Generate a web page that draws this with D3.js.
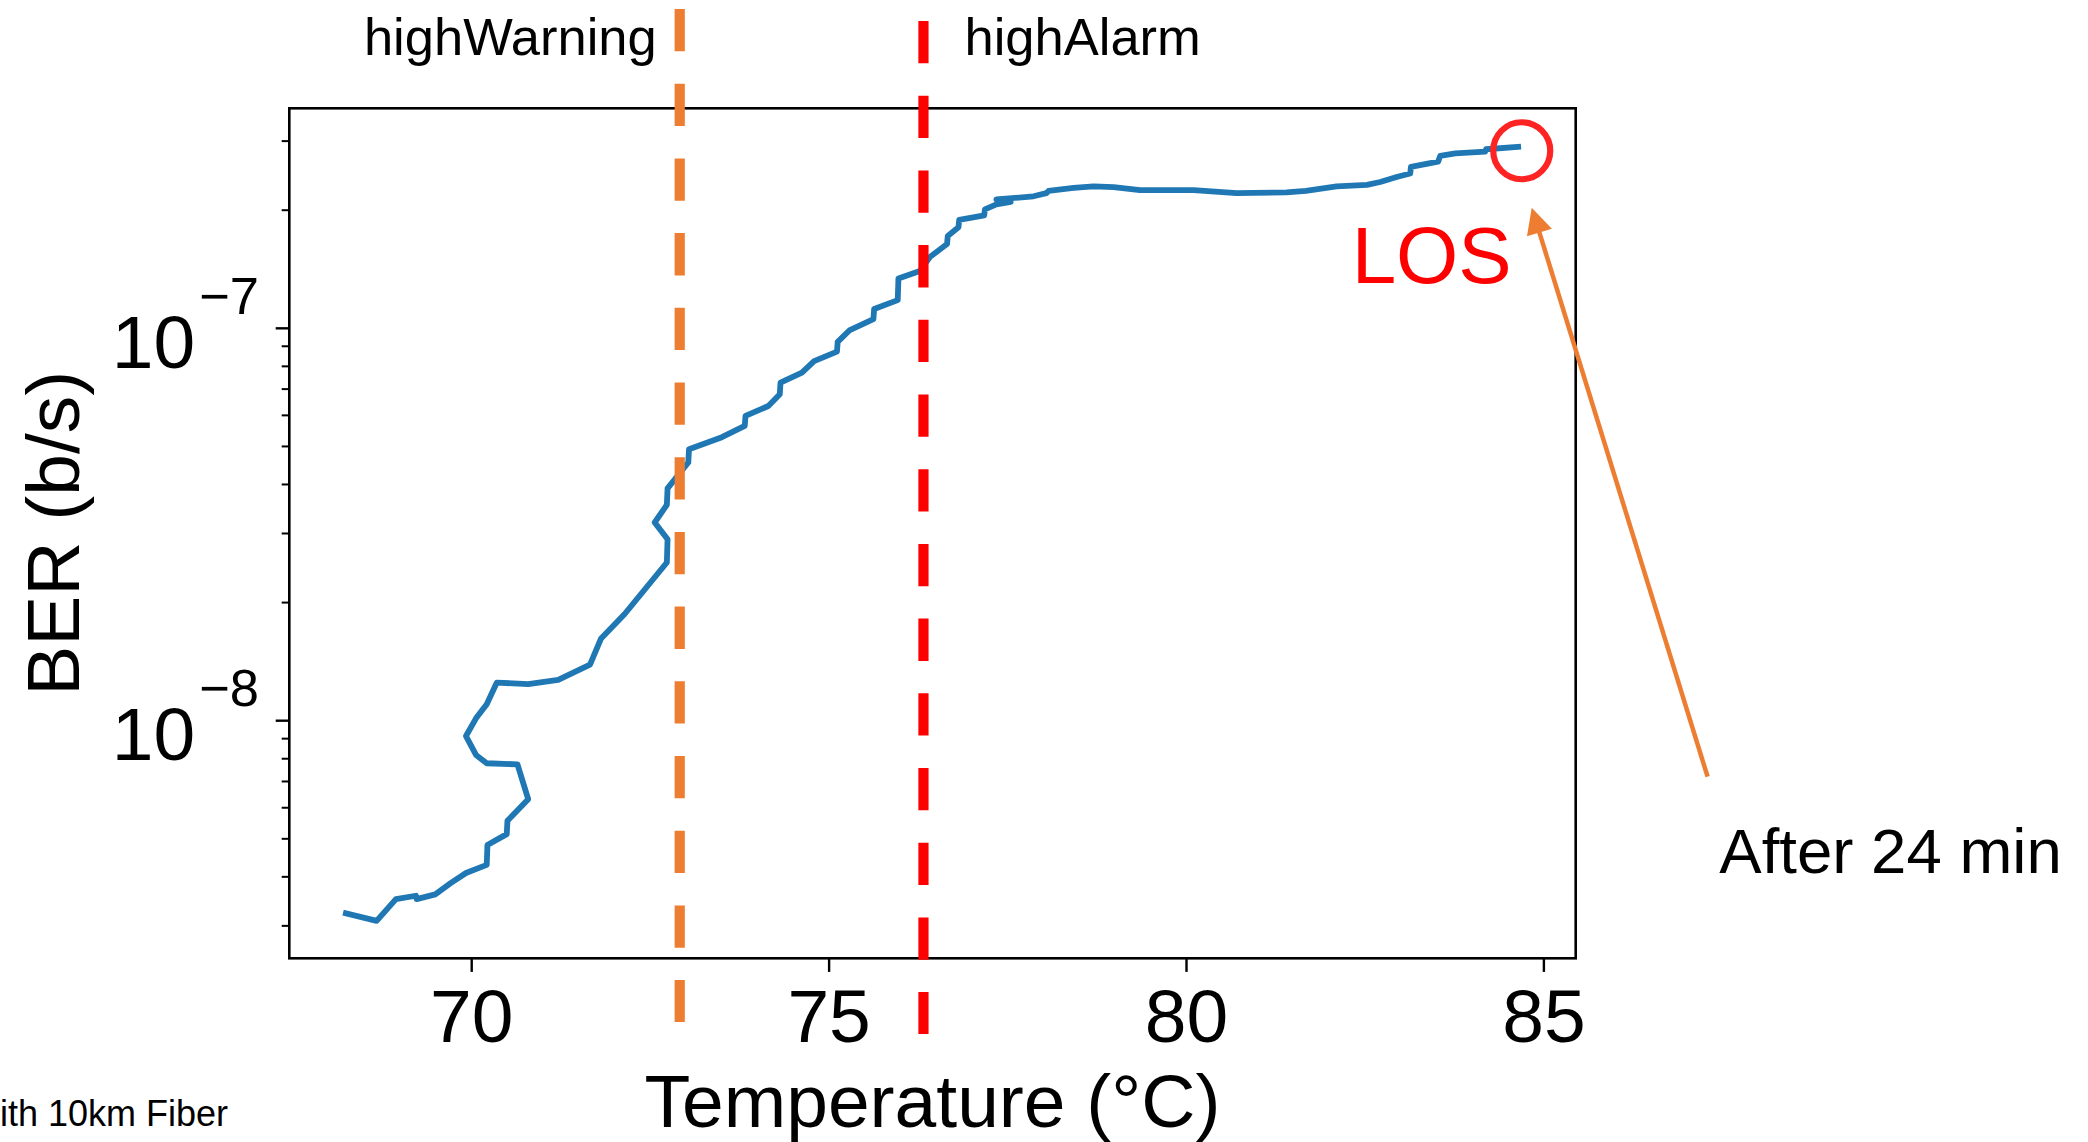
<!DOCTYPE html>
<html>
<head>
<meta charset="utf-8">
<script src="https://cdn.jsdelivr.net/npm/d3@7"></script>
<style>
  html, body { margin: 0; padding: 0; background: #fff; }
  svg { display: block; font-family: "Liberation Sans", Arial, sans-serif; }
</style>
</head>
<body>
<svg id="chart" width="2088" height="1142"></svg>
<script>
// ---- data ----
const temperature = [68.24, 68.67, 68.94, 69.22, 69.23, 69.49, 69.70, 69.92, 70.21, 70.22,
  70.49, 70.50, 70.79, 70.64, 70.21, 70.06, 69.92, 70.06, 70.21, 70.35,
  70.79, 71.21, 71.655, 71.81, 72.14, 72.73, 72.74, 72.56, 72.73, 72.74,
  73.03, 73.04, 73.50, 73.82, 73.83, 74.15, 74.31, 74.32, 74.62, 74.79,
  75.11, 75.12, 75.29, 75.62, 75.63, 75.96, 75.97, 76.27, 76.41, 76.65,
  76.66, 76.81, 76.82, 77.17, 77.18, 77.34, 77.54, 77.34, 77.86, 78.04,
  78.07, 78.42, 78.70, 78.98, 79.35, 80.10, 80.70, 81.40, 81.67, 82.10,
  82.525, 82.71, 82.94, 83.13, 83.14, 83.52, 83.55, 83.76, 84.18, 84.19, 84.64];
const berValues = [3.23e-9, 3.09e-9, 3.51e-9, 3.58e-9, 3.51e-9, 3.61e-9, 3.85e-9, 4.09e-9, 4.29e-9, 4.82e-9,
  5.14e-9, 5.56e-9, 6.31e-9, 7.74e-9, 7.79e-9, 8.18e-9, 9.14e-9, 1.014e-8, 1.101e-8, 1.25e-8,
  1.24e-8, 1.27e-8, 1.39e-8, 1.62e-8, 1.87e-8, 2.53e-8, 2.90e-8, 3.20e-8, 3.55e-8, 3.91e-8,
  4.55e-8, 4.92e-8, 5.28e-8, 5.64e-8, 5.98e-8, 6.34e-8, 6.79e-8, 7.27e-8, 7.71e-8, 8.25e-8,
  8.72e-8, 9.24e-8, 9.90e-8, 1.056e-7, 1.12e-7, 1.18e-7, 1.34e-7, 1.40e-7, 1.52e-7, 1.64e-7,
  1.72e-7, 1.81e-7, 1.89e-7, 1.94e-7, 2.01e-7, 2.07e-7, 2.10e-7, 2.13e-7, 2.17e-7, 2.21e-7,
  2.24e-7, 2.28e-7, 2.30e-7, 2.29e-7, 2.25e-7, 2.25e-7, 2.21e-7, 2.22e-7, 2.24e-7, 2.30e-7,
  2.32e-7, 2.36e-7, 2.43e-7, 2.48e-7, 2.58e-7, 2.66e-7, 2.75e-7, 2.79e-7, 2.82e-7, 2.86e-7, 2.90e-7];

const xTicks = [70, 75, 80, 85];
const yMajorTicks = [1e-8, 1e-7];
const yMajorExponents = ["8", "7"];
const yMinorTicks = [3e-9, 4e-9, 5e-9, 6e-9, 7e-9, 8e-9, 9e-9,
  2e-8, 3e-8, 4e-8, 5e-8, 6e-8, 7e-8, 8e-8, 9e-8, 2e-7, 3e-7];

const thresholdNames = ["highWarning", "highAlarm"];
const thresholdTemps = [72.91, 76.32];

const losPoint = [84.69, 2.835e-7];
const losLabelPoint = [83.43, 1.307e-7];
const arrowTip = [84.83, 2.03e-7];
const arrowTail = [87.29, 7.2e-9];
const noteTextPoint = [87.455, 4.09e-9];

// ---- layout ----
const svg = d3.select("#chart");
const L = 289.3, R = 1575.7, T = 108.3, B = 958.3;
const x = d3.scaleLinear().domain([67.448, 85.445]).range([L, R]);
const y = d3.scaleLog().domain([2.48e-9, 3.637e-7]).range([B, T]);

const FONT = 75;
const data = temperature.map((t, i) => [t, berValues[i]]);

// curve
svg.append("path")
  .datum(data)
  .attr("d", d3.line().x(d => x(d[0])).y(d => y(d[1])))
  .attr("fill", "none")
  .attr("stroke", "#1f77b4")
  .attr("stroke-width", 5.8)
  .attr("stroke-linejoin", "round")
  .attr("stroke-linecap", "square");

// frame
svg.append("rect")
  .attr("x", L).attr("y", T).attr("width", R - L).attr("height", B - T)
  .attr("fill", "none").attr("stroke", "#000").attr("stroke-width", 2.6);

// x ticks
const gx = svg.append("g");
xTicks.forEach(v => {
  gx.append("line").attr("x1", x(v)).attr("x2", x(v)).attr("y1", B).attr("y2", B + 13.6)
    .attr("stroke", "#000").attr("stroke-width", 2.4);
  gx.append("text").attr("x", x(v)).attr("y", 1041.7).attr("text-anchor", "middle")
    .attr("font-size", FONT).text(v);
});
svg.append("text").attr("x", (L + R) / 2).attr("y", 1126.7).attr("text-anchor", "middle")
  .attr("font-size", FONT).text("Temperature (°C)");

// y ticks
const gy = svg.append("g");
yMinorTicks.forEach(v => {
  gy.append("line").attr("x1", L - 7.6).attr("x2", L).attr("y1", y(v)).attr("y2", y(v))
    .attr("stroke", "#000").attr("stroke-width", 2);
});
yMajorTicks.forEach((v, i) => {
  gy.append("line").attr("x1", L - 13.6).attr("x2", L).attr("y1", y(v)).attr("y2", y(v))
    .attr("stroke", "#000").attr("stroke-width", 2.4);
  const t = gy.append("text").attr("x", 259).attr("y", y(v) + 39.2)
    .attr("text-anchor", "end").attr("font-size", FONT);
  t.append("tspan").text("10");
  t.append("tspan").attr("dx", 4).attr("dy", -54).attr("font-size", 52.5).text("\u2212" + yMajorExponents[i]);
});
svg.append("text")
  .attr("transform", `translate(79.3,${(T + B) / 2}) rotate(-90)`)
  .attr("text-anchor", "middle").attr("font-size", FONT).text("BER (b/s)");

// threshold dashed lines
const thrColors = ["#ed7d31", "#ff0000"];
const thrTop = [9, 21];
thresholdTemps.forEach((v, i) => {
  svg.append("line").attr("x1", x(v)).attr("x2", x(v)).attr("y1", thrTop[i]).attr("y2", thrTop[i] + 1013)
    .attr("stroke", thrColors[i]).attr("stroke-width", 10.2)
    .attr("stroke-dasharray", "42.3 32.4");
});
svg.append("text").attr("x", x(thresholdTemps[0]) - 23).attr("y", 55)
  .attr("text-anchor", "end").attr("font-size", 52.5).text(thresholdNames[0]);
svg.append("text").attr("x", x(thresholdTemps[1]) + 41).attr("y", 55)
  .attr("text-anchor", "start").attr("font-size", 52.5).text(thresholdNames[1]);

// LOS annotation
svg.append("circle").attr("cx", x(losPoint[0])).attr("cy", y(losPoint[1])).attr("r", 28.5)
  .attr("fill", "none").attr("stroke", "#ff2424").attr("stroke-width", 6.2);
svg.append("text").attr("x", x(losLabelPoint[0])).attr("y", y(losLabelPoint[1]))
  .attr("text-anchor", "middle").attr("font-size", 80).attr("fill", "#ff0000").text("LOS");

// arrow
const tx = x(arrowTip[0]), ty = y(arrowTip[1]);
const sx = x(arrowTail[0]), sy = y(arrowTail[1]);
const len = Math.hypot(tx - sx, ty - sy);
const ux = (tx - sx) / len, uy = (ty - sy) / len;
const headLen = 26, headHalf = 13;
const bx = tx - ux * headLen, by = ty - uy * headLen;
svg.append("line").attr("x1", sx).attr("y1", sy).attr("x2", bx + ux * 2).attr("y2", by + uy * 2)
  .attr("stroke", "#ed7d31").attr("stroke-width", 4.5);
svg.append("path")
  .attr("d", `M${tx},${ty} L${bx - uy * headHalf},${by + ux * headHalf} L${bx + uy * headHalf},${by - ux * headHalf} Z`)
  .attr("fill", "#ed7d31");
svg.append("text").attr("x", x(noteTextPoint[0])).attr("y", y(noteTextPoint[1]))
  .attr("font-size", 63.5).text("After 24 min");

// truncated caption at bottom-left
svg.append("text").attr("x", 0).attr("y", 1125.7).attr("font-size", 36).text("ith 10km Fiber");
</script>
</body>
</html>
